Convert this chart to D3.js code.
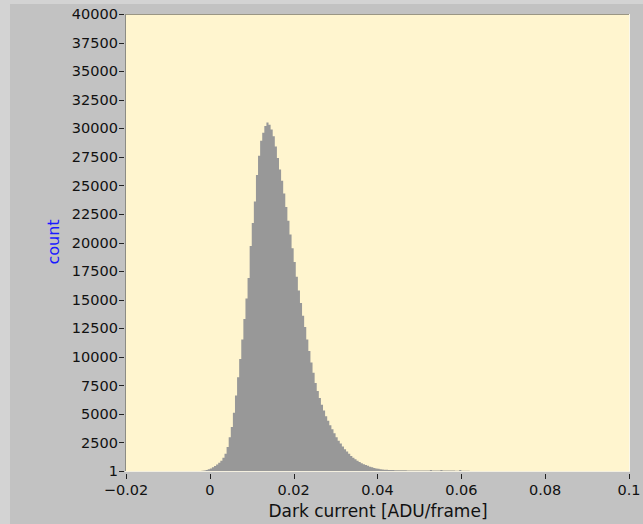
<!DOCTYPE html>
<html>
<head>
<meta charset="utf-8">
<script src="https://cdn.jsdelivr.net/npm/d3@7"></script>
<style>
  body { margin: 0; background: #c2c2c2; }
  svg { display: block; }
  text { font-family: "DejaVu Sans", sans-serif; fill: #111; }
</style>
</head>
<body>
<script>
// histogram, bin width 0.0005
const binWidth = 0.0005;
const binStart = -0.0025;
const counts = [
  10, 20, 40, 80, 150, 220, 320, 430, 560, 720,
  900, 1150, 1500, 2100, 2950, 3850, 5100, 6600, 8200, 9800,
  11500, 13300, 15100, 16900, 19700, 21700, 23600, 25900, 27600, 28900,
  29600, 30200, 30500, 30300, 29900, 29300, 28400, 27400, 26400, 25400,
  24300, 23100, 21900, 20700, 19500, 18300, 17000, 15800, 14700, 13600,
  12600, 11500, 10500, 9500, 8600, 7700, 7000, 6400, 5800, 5300,
  4800, 4400, 4000, 3650, 3300, 2950, 2650, 2400, 2150, 1900,
  1700, 1500, 1320, 1170, 1030, 900, 790, 690, 600, 520,
  450, 380, 320, 270, 230, 195, 165, 140, 120, 105,
  95, 85, 80, 75, 70, 66, 62, 60, 58, 55,
  54, 52, 50, 49, 48, 47, 45, 44, 43, 42,
  95, 41, 40, 40, 39, 90, 38, 37, 36, 35,
  35, 34, 33, 33, 80, 32, 31, 30, 30
];
const bins = counts.map((c, i) => ({ x0: binStart + i * binWidth, count: c }));
// closing point so the last bin has its full width
bins.push({ x0: binStart + counts.length * binWidth, count: counts[counts.length - 1] });

const xTicks = [-0.02, 0, 0.02, 0.04, 0.06, 0.08, 0.1];
const yTicks = [1, 2500, 5000, 7500, 10000, 12500, 15000, 17500, 20000, 22500,
  25000, 27500, 30000, 32500, 35000, 37500, 40000];

const W = 643, H = 524;
const svg = d3.select("body").append("svg").attr("width", W).attr("height", H);

// panel frame
svg.append("rect").attr("width", W).attr("height", H).attr("fill", "#c2c2c2");
svg.append("rect").attr("width", 10).attr("height", H).attr("fill", "#d3d3d3");
svg.append("rect").attr("width", W).attr("height", 4).attr("fill", "#d3d3d3");

const plot = { left: 125, top: 14, right: 629, bottom: 471 };

const x = d3.scaleLinear().domain([-0.02, 0.1]).range([126, 629]);
const y = d3.scaleLinear().domain([1, 40000]).range([471, 14]);

svg.append("rect")
  .attr("x", plot.left).attr("y", plot.top)
  .attr("width", plot.right - plot.left).attr("height", plot.bottom - plot.top)
  .attr("fill", "#fff5cf");

svg.append("clipPath").attr("id", "clip")
  .append("rect")
  .attr("x", plot.left).attr("y", plot.top)
  .attr("width", plot.right - plot.left).attr("height", plot.bottom - plot.top);

const area = d3.area()
  .curve(d3.curveStepAfter)
  .x(d => x(d.x0))
  .y0(y(1))
  .y1(d => y(d.count));

svg.append("path")
  .attr("clip-path", "url(#clip)")
  .datum(bins)
  .attr("d", area)
  .attr("fill", "#989898");

// sunken border
svg.append("line").attr("x1", plot.left).attr("x2", plot.right).attr("y1", plot.top + 0.5).attr("y2", plot.top + 0.5)
  .attr("stroke", "#9a9684");
svg.append("line").attr("x1", plot.left + 0.5).attr("x2", plot.left + 0.5).attr("y1", plot.top).attr("y2", plot.bottom)
  .attr("stroke", "#8c8c84");
svg.append("line").attr("x1", plot.left).attr("x2", plot.right + 1).attr("y1", plot.bottom + 0.5).attr("y2", plot.bottom + 0.5)
  .attr("stroke", "#f4f0e0");
svg.append("line").attr("x1", plot.right + 0.5).attr("x2", plot.right + 0.5).attr("y1", plot.top).attr("y2", plot.bottom)
  .attr("stroke", "#fbf8ea");

// y axis
const yAxis = svg.append("g");
yAxis.selectAll("line").data(yTicks).enter().append("line")
  .attr("x1", 119).attr("x2", 124)
  .attr("y1", d => Math.round(y(d)) + 0.5).attr("y2", d => Math.round(y(d)) + 0.5)
  .attr("stroke", "#222");
yAxis.selectAll("text").data(yTicks).enter().append("text")
  .attr("x", 118).attr("y", d => y(d)).attr("dy", "0.36em")
  .attr("text-anchor", "end").attr("font-size", 14.5)
  .text(d => d);

// x axis
const xAxis = svg.append("g");
xAxis.selectAll("line").data(xTicks).enter().append("line")
  .attr("x1", d => Math.round(x(d)) + 0.5).attr("x2", d => Math.round(x(d)) + 0.5)
  .attr("y1", 474).attr("y2", 479)
  .attr("stroke", "#222");
xAxis.selectAll("text").data(xTicks).enter().append("text")
  .attr("x", d => x(d)).attr("y", 495)
  .attr("text-anchor", "middle").attr("font-size", 14.5)
  .text(d => d === 0 ? "0" : d3.format("")(d).replace("-", "\u2212"));

svg.append("text")
  .attr("x", 378).attr("y", 517)
  .attr("text-anchor", "middle").attr("font-size", 17)
  .text("Dark current [ADU/frame]");

svg.append("text")
  .attr("transform", "translate(59,242) rotate(-90)")
  .attr("text-anchor", "middle").attr("font-size", 16)
  .style("fill", "#1a1aff")
  .text("count");
</script>
</body>
</html>
